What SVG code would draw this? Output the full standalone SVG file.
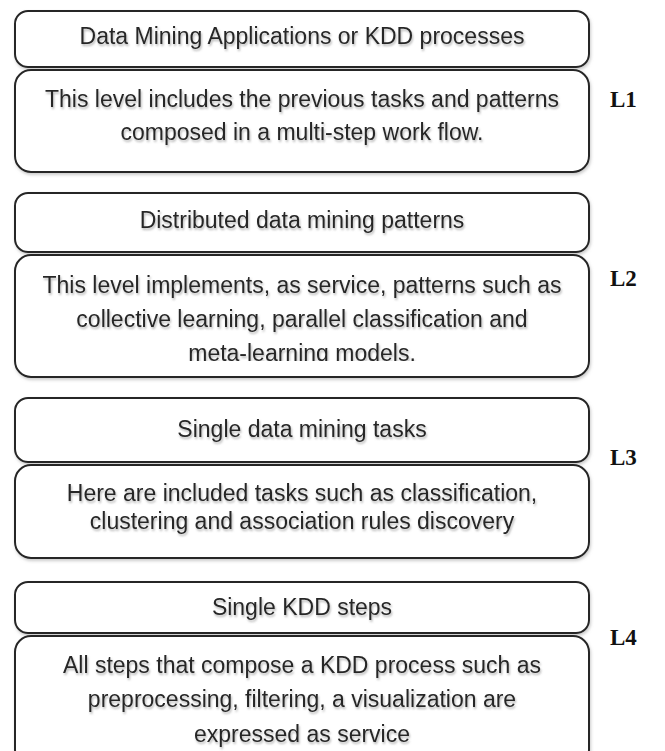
<svg xmlns="http://www.w3.org/2000/svg" width="665" height="751" viewBox="0 0 665 751">
<defs>
<style>
.box{fill:#ffffff;stroke:#262626;stroke-width:2}
.t{font-family:"Liberation Sans",Arial,sans-serif;font-size:23px;fill:#262626;text-anchor:middle}
.lv{font-family:"Liberation Serif","Times New Roman",serif;font-size:23px;font-weight:bold;fill:#111111}
</style>
<filter id="ts" x="-5%" y="-30%" width="110%" height="170%">
<feDropShadow dx="1" dy="2" stdDeviation="1.3" flood-color="#7a7a7a" flood-opacity="0.55"/>
</filter>
<filter id="bs" x="-5%" y="-10%" width="110%" height="125%">
<feDropShadow dx="1" dy="2" stdDeviation="1.5" flood-color="#999999" flood-opacity="0.5"/>
</filter>
<clipPath id="clipL2"><rect x="0" y="0" width="665" height="361"/></clipPath>
</defs>
<rect width="665" height="751" fill="#ffffff"/>

<g id="connectors"></g>

<g id="L1">
<rect class="box" filter="url(#bs)" x="15" y="11" width="574" height="56" rx="13"/>
<text class="t" filter="url(#ts)" x="302" y="44">Data Mining Applications or KDD processes</text>
<rect class="box" filter="url(#bs)" x="15" y="70" width="574" height="102" rx="16"/>
<text class="t" filter="url(#ts)" x="302" y="107">This level includes the previous tasks and patterns</text>
<text class="t" filter="url(#ts)" x="302" y="140">composed  in a multi-step work flow.</text>
<text class="lv" x="610" y="107">L1</text>
</g>

<g id="L2">
<rect class="box" filter="url(#bs)" x="15" y="193" width="574" height="59" rx="13"/>
<text class="t" filter="url(#ts)" x="302" y="228">Distributed  data mining patterns</text>
<rect class="box" filter="url(#bs)" x="15" y="255" width="574" height="122" rx="16"/>
<text class="t" filter="url(#ts)" x="302" y="293">This level implements,  as service, patterns such as</text>
<text class="t" filter="url(#ts)" x="302" y="327">collective learning, parallel classification and</text>
<g clip-path="url(#clipL2)"><text class="t" filter="url(#ts)" x="302" y="361">meta-learning models.</text></g>
<text class="lv" x="610" y="286">L2</text>
</g>

<g id="L3">
<rect class="box" filter="url(#bs)" x="15" y="398" width="574" height="64" rx="13"/>
<text class="t" filter="url(#ts)" x="302" y="437">Single data mining tasks</text>
<rect class="box" filter="url(#bs)" x="15" y="465" width="574" height="93" rx="16"/>
<text class="t" filter="url(#ts)" x="302" y="501">Here are included tasks such as classification,</text>
<text class="t" filter="url(#ts)" x="302" y="529">clustering and association  rules discovery</text>
<text class="lv" x="610" y="465">L3</text>
</g>

<g id="L4">
<rect class="box" filter="url(#bs)" x="15" y="582" width="574" height="51" rx="13"/>
<text class="t" filter="url(#ts)" x="302" y="615">Single KDD steps</text>
<rect class="box" filter="url(#bs)" x="15" y="636" width="574" height="130" rx="16"/>
<text class="t" filter="url(#ts)" x="302" y="673">All steps that compose  a KDD process such as</text>
<text class="t" filter="url(#ts)" x="302" y="707">preprocessing,  filtering, a visualization are</text>
<text class="t" filter="url(#ts)" x="302" y="742">expressed  as service</text>
<text class="lv" x="610" y="645">L4</text>
</g>
</svg>
